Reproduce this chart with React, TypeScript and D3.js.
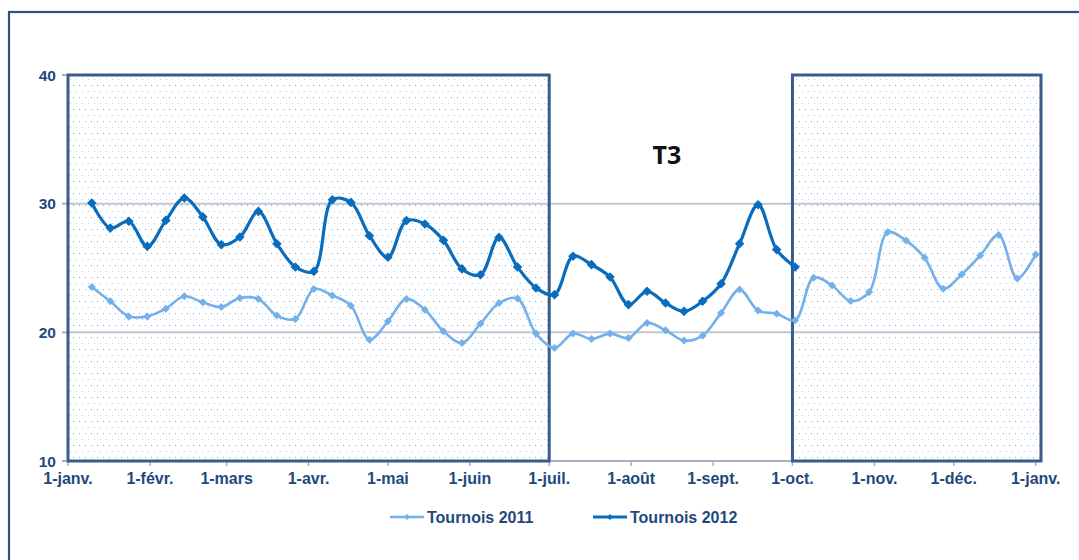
import React from "react";
import * as d3 from "d3";

const WIDTH = 1079;
const HEIGHT = 560;

const monthLabels = ["1-janv.", "1-févr.", "1-mars", "1-avr.", "1-mai", "1-juin", "1-juil.", "1-août", "1-sept.", "1-oct.", "1-nov.", "1-déc.", "1-janv."];
const yTicks = [10, 20, 30, 40];
const gridValues = [20, 30];

const tournois2011 = [
  23.53, 22.41, 21.24, 21.24, 21.84, 22.8, 22.33, 21.97, 22.67, 22.59, 21.3, 21.04, 23.37,
  22.87, 22.07, 19.43, 20.86, 22.59, 21.76, 20.08, 19.18, 20.67, 22.28, 22.62, 19.9, 18.79,
  19.9, 19.49, 19.9, 19.56, 20.73, 20.16, 19.36, 19.74, 21.51, 23.32, 21.69, 21.45, 20.93,
  24.24, 23.64, 22.43, 23.13, 27.78, 27.13, 25.79, 23.39, 24.5, 25.97, 27.57, 24.19, 26.05,
];
const tournois2012 = [
  30.05, 28.1, 28.63, 26.68, 28.7, 30.44, 28.97, 26.81, 27.41, 29.4, 26.89, 25.08, 24.74,
  30.31, 30.1, 27.51, 25.83, 28.68, 28.42, 27.15, 24.93, 24.48, 27.38, 25.08, 23.45, 22.93,
  25.91, 25.26, 24.3, 22.15, 23.19, 22.28, 21.63, 22.41, 23.78, 26.89, 29.92, 26.43, 25.08,
];
const seriesNames = ["Tournois 2011", "Tournois 2012"];
const seriesColors = ["#74b0ea", "#0a6cbd"];
const periodLabel = "T3";

const axisStart = new Date(Date.UTC(2012, 0, 1));
const axisEnd = new Date(Date.UTC(2013, 0, 3));
const firstWeek = new Date(Date.UTC(2012, 0, 10));
const weeks = d3.utcDay.range(firstWeek, new Date(Date.UTC(2013, 0, 8)), 7);
const monthTicks = d3.utcMonth.range(axisStart, new Date(Date.UTC(2013, 0, 2)));
const shadedPeriods: [Date, Date][] = [
  [axisStart, new Date(Date.UTC(2012, 6, 1))],
  [new Date(Date.UTC(2012, 9, 1)), axisEnd],
];

const x = d3.scaleUtc().domain([axisStart, axisEnd]).range([68, 1041]);
const y = d3.scaleLinear().domain([10, 40]).range([461, 75]);

const line = d3
  .line<[Date, number]>()
  .x((d) => x(d[0]))
  .y((d) => y(d[1]))
  .curve(d3.curveCatmullRom.alpha(0.5));

const diamond = (r: number) => `M0,${-r}L${r},0L0,${r}L${-r},0Z`;

const labelColor = "#1f497d";
const frameColor = "#3b5b8b";
const font = "'Liberation Sans', Arial, sans-serif";

export default function App() {
  const s2011: [Date, number][] = tournois2011.map((v, i) => [weeks[i], v]);
  const s2012: [Date, number][] = tournois2012.map((v, i) => [weeks[i], v]);
  const series = [s2011, s2012];
  const widths = [2.6, 3.2];
  const markR = [4, 4.8];

  return (
    <svg width={WIDTH} height={HEIGHT} style={{ position: "absolute", left: 0, top: 0 }}>
      <defs>
        <pattern id="dots" width={6} height={12} patternUnits="userSpaceOnUse">
          <rect x={1} y={1} width={1} height={1} fill="#86abdc" />
          <rect x={4} y={7} width={1} height={1} fill="#b3cbeb" />
        </pattern>
      </defs>
      <rect x={0} y={0} width={WIDTH} height={HEIGHT} fill="#ffffff" />
      {/* outer frame */}
      <rect x={9} y={12} width={WIDTH + 20} height={HEIGHT + 20} fill="none" stroke="#2f5182" strokeWidth={2.2} />

      {/* shaded periods fill */}
      {shadedPeriods.map(([a, b], i) => (
        <rect key={"f" + i} x={x(a)} y={y(40)} width={x(b) - x(a)} height={y(10) - y(40)} fill="url(#dots)" />
      ))}

      {/* gridlines */}
      {gridValues.map((v) => (
        <line key={"g" + v} x1={x(axisStart)} x2={x(axisEnd)} y1={y(v)} y2={y(v)} stroke="#c3c6d2" strokeWidth={2} />
      ))}
      {/* axes */}
      <line x1={x(axisStart)} x2={x(axisEnd)} y1={y(10)} y2={y(10)} stroke="#a9b0c0" strokeWidth={2} />
      <line x1={x(axisStart)} x2={x(axisStart)} y1={y(10)} y2={y(40)} stroke="#a9b0c0" strokeWidth={2} />
      {yTicks.map((v) => (
        <g key={"yt" + v}>
          <line x1={x(axisStart) - 6} x2={x(axisStart)} y1={y(v)} y2={y(v)} stroke="#a9b0c0" strokeWidth={2} />
          <text x={56} y={y(v)} dy="0.36em" textAnchor="end" fontFamily={font} fontWeight="bold" fontSize={15.5} fill={labelColor}>
            {v}
          </text>
        </g>
      ))}
      {monthTicks.map((d, i) => (
        <g key={"xt" + i}>
          <line x1={x(d)} x2={x(d)} y1={y(10)} y2={y(10) + 5} stroke="#a9b0c0" strokeWidth={1.5} />
          <text x={x(d)} y={484} textAnchor="middle" fontFamily={font} fontWeight="bold" fontSize={16} fill={labelColor}>
            {monthLabels[i]}
          </text>
        </g>
      ))}

      {/* shaded period borders */}
      {shadedPeriods.map(([a, b], i) => (
        <rect key={"b" + i} x={x(a)} y={y(40)} width={x(b) - x(a)} height={y(10) - y(40)} fill="none" stroke={frameColor} strokeWidth={3} />
      ))}

      <text x={667} y={164} textAnchor="middle" fontFamily="'Open Sans', sans-serif" fontWeight="bold" fontSize={25} fill="#111111">
        {periodLabel}
      </text>

      {/* series */}
      {series.map((s, k) => (
        <g key={"s" + k}>
          <path d={line(s) || ""} fill="none" stroke={seriesColors[k]} strokeWidth={widths[k]} strokeLinejoin="round" />
          {s.map((p, i) => (
            <path key={i} d={diamond(markR[k])} transform={`translate(${x(p[0])},${y(p[1])})`} fill={seriesColors[k]} />
          ))}
        </g>
      ))}

      {/* legend */}
      {[390, 593].map((lx, k) => (
        <g key={"l" + k}>
          <line x1={lx} x2={lx + 34} y1={517} y2={517} stroke={seriesColors[k]} strokeWidth={widths[k]} />
          <path d={diamond(3)} transform={`translate(${lx + 17},517)`} fill={seriesColors[k]} />
          <text x={lx + 37} y={522.5} fontFamily={font} fontWeight="bold" fontSize={16} fill={labelColor}>
            {seriesNames[k]}
          </text>
        </g>
      ))}
    </svg>
  );
}
